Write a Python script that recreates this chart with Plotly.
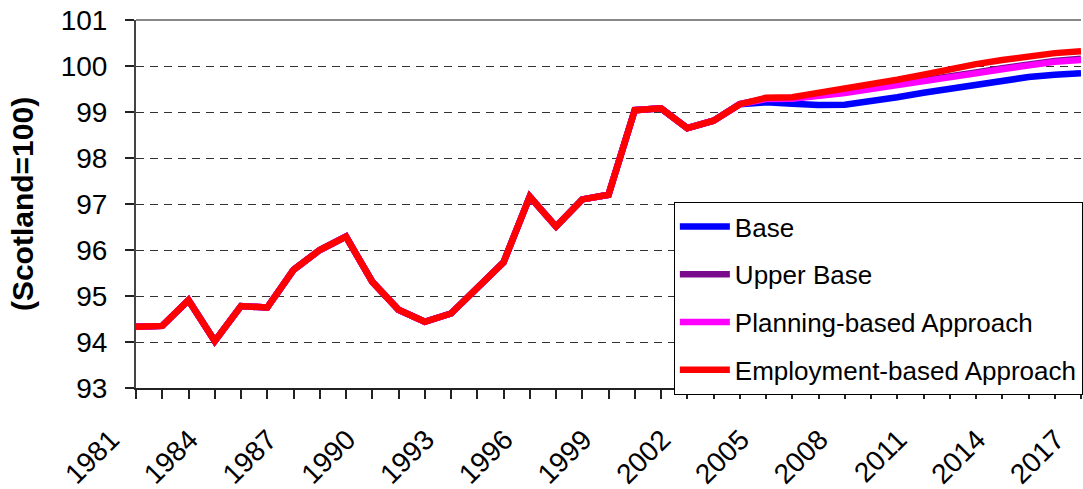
import plotly.graph_objects as go

years = list(range(1981, 2018))
tick_labels = [str(y) if (y - 1981) % 3 == 0 else "" for y in years]

# shared history 1981-2004
history = [94.33, 94.35, 94.91, 94.02, 94.78, 94.75, 95.57, 96.00, 96.29, 95.31,
           94.70, 94.44, 94.62, 95.20, 95.73, 97.16, 96.51, 97.10, 97.20, 99.04,
           99.08, 98.65, 98.81, 99.17]

# projections 2005-2017
base_proj = [99.21, 99.18, 99.15, 99.16, 99.23, 99.32, 99.42, 99.51, 99.60, 99.68,
             99.76, 99.81, 99.84]
upper_proj = [99.29, 99.30, 99.36, 99.43, 99.52, 99.60, 99.67, 99.76, 99.86, 99.95,
              100.04, 100.11, 100.16]
planning_proj = [99.28, 99.29, 99.34, 99.41, 99.50, 99.58, 99.65, 99.74, 99.84, 99.93,
                 100.02, 100.09, 100.13]
employment_proj = [99.31, 99.32, 99.41, 99.49, 99.60, 99.70, 99.81, 99.93, 100.04, 100.13,
                   100.22, 100.28, 100.32]

series = [
    ("Base", base_proj, "#0000FF"),
    ("Upper Base", upper_proj, "#7A0A8C"),
    ("Planning-based Approach", planning_proj, "#FF00FF"),
    ("Employment-based Approach", employment_proj, "#FF0000"),
]

FONT = "Arial, 'Liberation Sans', sans-serif"

fig = go.Figure()
for i, (name, proj, color) in enumerate(series):
    fig.add_trace(go.Scatter(
        x=years, y=history + proj, name=name, mode="lines",
        line=dict(color=color, width=6.5), legendgroup=f"g{i}",
    ))

fig.update_layout(
    width=1083, height=489,
    margin=dict(l=136, r=0, t=20, b=101),
    paper_bgcolor="white", plot_bgcolor="white",
    font=dict(family=FONT, size=28, color="black"),
    showlegend=True,
    legend=dict(
        x=(675 - 136) / 947, y=(388 - 202) / 368, xanchor="left", yanchor="top",
        bgcolor="white", bordercolor="black", borderwidth=1,
        font=dict(family=FONT, size=26, color="black"),
        tracegroupgap=11, traceorder="grouped", itemwidth=50,
    ),
    xaxis=dict(
        range=[1981, 2017], tickmode="array", tickvals=years, ticktext=tick_labels,
        tickangle=-45, ticks="outside", ticklen=9, tickwidth=1.5, tickcolor="#222",
        showline=True, linecolor="#222", linewidth=2, showgrid=False,
        zeroline=False, automargin=False, tickfont=dict(size=28),
        ticklabeloverflow="allow", ticklabelstandoff=13, ticklabelshift=-25,
    ),
    yaxis=dict(
        range=[93, 101], tickmode="array", tickvals=list(range(93, 102)),
        ticks="outside", ticklen=9, tickwidth=1.5, tickcolor="#222",
        showline=True, linecolor="#444", linewidth=2,
        showgrid=True, gridcolor="#333", gridwidth=1, griddash="8px,6px",
        zeroline=False, automargin=False, tickfont=dict(size=28),
        ticklabelstandoff=12, ticklabeloverflow="allow",
        title=dict(text="<b>(Scotland=100)</b>", font=dict(size=30), standoff=18),
    ),
    shapes=[dict(type="line", xref="paper", yref="paper", x0=0, x1=1, y0=1, y1=1,
                 line=dict(color="#888888", width=2))],
)

fig.write_html("out.html", config={"displayModeBar": False},
               post_script="document.body.style.margin='0px';")
